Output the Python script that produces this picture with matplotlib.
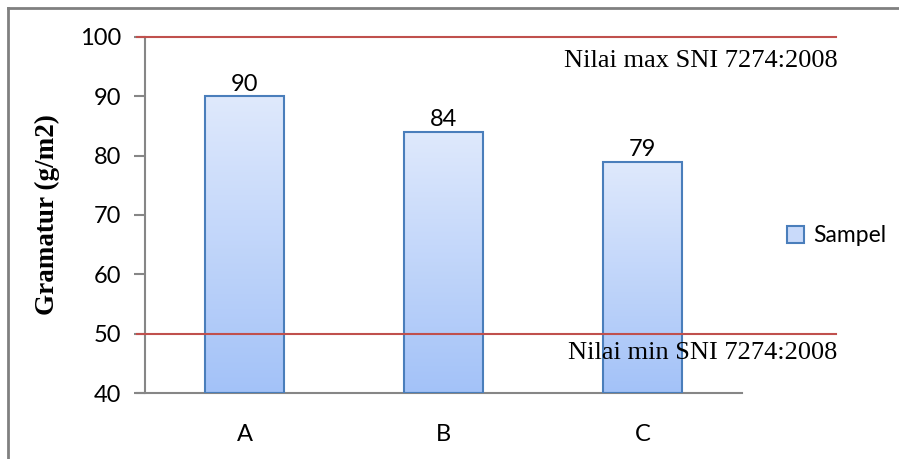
import numpy as np
import matplotlib.pyplot as plt
from matplotlib.colors import LinearSegmentedColormap
from matplotlib.lines import Line2D
from matplotlib.patches import Patch

# data
samples = ['A', 'B', 'C']
gramatur = [90, 84, 79]
sni_max = 100
sni_min = 50

fig = plt.figure(figsize=(8.99, 4.59), dpi=100)
ax = fig.add_axes([145/899, 1-393/459, 597/899, 356/459])

bar_edge = '#4a7ebb'
grad = LinearSegmentedColormap.from_list('bar', ['#a3c2f8', '#dfe9fc'])
width = 0.40
x = np.arange(len(samples))

# gradient bars
for xi, v in zip(x, gramatur):
    g = np.linspace(0, 1, 256).reshape(-1, 1)
    ax.imshow(g, cmap=grad, origin='lower', aspect='auto',
              extent=[xi - width/2, xi + width/2, 40, v], zorder=2)
    ax.bar(xi, v - 40, bottom=40, width=width, facecolor='none',
           edgecolor=bar_edge, linewidth=1.5, zorder=3)
    ax.text(xi, v + 0.3, str(v), ha='center', va='bottom', fontsize=17,
            family='Lato', color='black')
ax.set_xlim(-0.5, 2.5)
ax.set_ylim(40, 100)

# SNI limit lines, drawn past the plot area like the original
x0, x1 = -0.54, 2.97
for lim in (sni_max, sni_min):
    ax.plot([x0, x1], [lim, lim], color='#c0504d', lw=1.5, clip_on=False, zorder=4)
ax.text(x1 + 0.01, sni_max - 4.1, 'Nilai max SNI 7274:2008', ha='right', va='center',
        fontsize=19, family='Liberation Serif', zorder=5)
ax.text(x1 + 0.01, sni_min - 3.2, 'Nilai min SNI 7274:2008', ha='right', va='center',
        fontsize=19, family='Liberation Serif', zorder=5)

# axes styling
for s in ('top', 'right'):
    ax.spines[s].set_visible(False)
for s in ('left', 'bottom'):
    ax.spines[s].set_color('#868686')
    ax.spines[s].set_linewidth(1.5)
ax.spines['bottom'].set_bounds(-0.54, 2.5)
ax.set_yticks(range(40, 101, 10))
ax.tick_params(axis='y', direction='out', length=8, width=1.5, color='#868686',
               labelsize=17, pad=9)
ax.tick_params(axis='x', length=0, labelsize=17, pad=22)
ax.set_xticks(x)
ax.set_xticklabels(samples)
for lab in ax.get_xticklabels() + ax.get_yticklabels():
    lab.set_fontfamily('Lato')
ax.set_ylabel('Gramatur (g/m2)', fontsize=19.5, fontweight='bold',
              family='Liberation Serif', labelpad=14)
ax.yaxis.set_label_coords(-(145 - 60) / 597, 0.5)

# legend
handle = Patch(facecolor='#c9dafa', edgecolor=bar_edge, linewidth=1.5)
fig.legend([handle], ['Sampel'], loc='center left', bbox_to_anchor=(766/899, 1-236/459),
           frameon=False, prop={'family': 'Lato', 'size': 16.5},
           handlelength=0.75, handleheight=0.75, handletextpad=0.4)

# outer chart frame (top and left edges visible)
fig.add_artist(Line2D([8/899, 1], [1-8/459, 1-8/459], color='#808080', lw=2))
fig.add_artist(Line2D([8/899, 8/899], [0, 1-8/459], color='#808080', lw=2))

fig.savefig('out.png', dpi=100)
